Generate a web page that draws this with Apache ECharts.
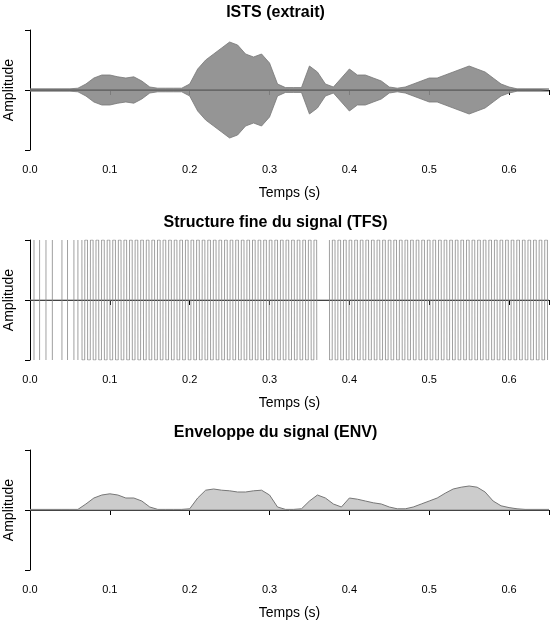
<!DOCTYPE html>
<html>
<head>
<meta charset="UTF-8">
<script src="https://cdn.jsdelivr.net/npm/echarts@6/dist/echarts.min.js"></script>
<style>
  body { margin: 0; background: #fff; }
  #chart { width: 551px; height: 621px; }
</style>
</head>
<body>
<div id="chart"></div>
<script>
// temps (s), pas de 10 ms
var times = [];
for (var i = 0; i <= 65; i++) times.push(+(i * 0.01).toFixed(2));

var istsEnv = [0.02,0.02,0.02,0.02,0.02,0.02,0.03,0.10,0.20,0.25,
               0.25,0.22,0.20,0.22,0.15,0.05,0.03,0.03,0.03,0.03,
               0.10,0.35,0.50,0.60,0.70,0.80,0.75,0.60,0.55,0.60,
               0.45,0.10,0.04,0.04,0.04,0.40,0.30,0.10,0.05,0.20,
               0.35,0.25,0.25,0.20,0.15,0.05,0.03,0.05,0.10,0.15,
               0.20,0.20,0.25,0.30,0.35,0.40,0.35,0.30,0.20,0.10,
               0.05,0.02,0.02,0.02,0.02,0.02];

// enveloppe extraite (ENV)
var envValues = [0.01,0.01,0.01,0.01,0.01,0.01,0.01,0.10,0.20,0.25,
                 0.27,0.25,0.20,0.20,0.15,0.05,0.01,0.01,0.01,0.01,
                 0.02,0.20,0.33,0.35,0.33,0.32,0.30,0.30,0.32,0.33,
                 0.25,0.05,0.01,0.01,0.02,0.15,0.25,0.20,0.10,0.05,
                 0.20,0.18,0.15,0.12,0.10,0.05,0.02,0.02,0.05,0.10,
                 0.15,0.20,0.28,0.35,0.38,0.40,0.38,0.30,0.15,0.07,
                 0.04,0.02,0.01,0.01,0.01,0.01];

// TFS : traits isolés au début, puis zones denses
var tfsSparse = [0.005, 0.012, 0.02, 0.028, 0.04, 0.047, 0.055, 0.06];
var tfsDenseRanges = [[0.065, 0.36], [0.375, 0.65]];
var tfsPeriod = 0.0035;

var xTicks = ['0.0', '0.1', '0.2', '0.3', '0.4', '0.5', '0.6'];

var tfsPoints = [];
tfsSparse.forEach(function (t) {
  tfsPoints.push([t, -1], [t, 1], '-');
});
tfsDenseRanges.forEach(function (r) {
  var s = 1;
  for (var t = r[0]; t <= r[1]; t += tfsPeriod) {
    tfsPoints.push([t, s], [t + tfsPeriod * 0.05, -s]);
    s = -s;
  }
  tfsPoints.push('-');
});

var tops = [30, 240, 450];
var titles = ['ISTS (extrait)', 'Structure fine du signal (TFS)', 'Enveloppe du signal (ENV)'];
var grids = [], xAxes = [], yAxes = [], titleList = [], series = [];

tops.forEach(function (top, k) {
  grids.push({ left: 30, right: 2, top: top, height: 120, containLabel: false, outerBoundsMode: 'none' });
  titleList.push({ text: titles[k], left: 'center', top: top - 30,
    textStyle: { fontSize: 16, fontWeight: 'bold', color: '#000', fontFamily: 'Liberation Sans' } });
  xAxes.push({ gridIndex: k, type: 'value', min: 0, max: 0.65, interval: 0.1,
    name: 'Temps (s)', nameLocation: 'middle', nameGap: 36,
    nameTextStyle: { fontSize: 14, color: '#000', fontFamily: 'Liberation Sans' },
    axisLine: { lineStyle: { color: '#000' } },
    axisTick: { lineStyle: { color: '#000' } },
    axisLabel: { color: '#000', fontSize: 11, margin: 14, fontFamily: 'Liberation Sans',
      formatter: function (v) { var l = xTicks[Math.round(v * 10)]; return l || ''; } },
    splitLine: { show: false } });
  yAxes.push({ gridIndex: k, type: 'value', min: -1, max: 1, interval: 1,
    name: 'Amplitude', nameLocation: 'middle', nameGap: 14, nameRotate: 90,
    nameTextStyle: { fontSize: 14, color: '#000', fontFamily: 'Liberation Sans' },
    axisLine: { show: true, lineStyle: { color: '#000' } },
    axisTick: { show: true, lineStyle: { color: '#000' } },
    axisLabel: { show: false }, splitLine: { show: false } });
});

// ISTS : bande -env..+env
series.push({ type: 'line', xAxisIndex: 0, yAxisIndex: 0, symbol: 'none',
  lineStyle: { color: '#777', width: 0.8 }, areaStyle: { color: '#8a8a8a', opacity: 0.9, origin: 0 },
  data: times.map(function (t, i) { return [t, istsEnv[i]]; }) });
series.push({ type: 'line', xAxisIndex: 0, yAxisIndex: 0, symbol: 'none',
  lineStyle: { color: '#777', width: 0.8 }, areaStyle: { color: '#8a8a8a', opacity: 0.9, origin: 0 },
  data: times.map(function (t, i) { return [t, -istsEnv[i]]; }) });
series.push({ type: 'line', xAxisIndex: 0, yAxisIndex: 0, symbol: 'none',
  lineStyle: { color: '#555', width: 1 }, data: [[0, 0], [0.65, 0]] });

// TFS
series.push({ type: 'line', xAxisIndex: 1, yAxisIndex: 1, symbol: 'none', connectNulls: false,
  lineStyle: { color: '#888', width: 0.8 }, data: tfsPoints });
series.push({ type: 'line', xAxisIndex: 1, yAxisIndex: 1, symbol: 'none',
  lineStyle: { color: '#888', width: 1 }, data: [[0, 0], [0.65, 0]] });

// ENV
series.push({ type: 'line', xAxisIndex: 2, yAxisIndex: 2, symbol: 'none',
  lineStyle: { color: '#777', width: 1 }, areaStyle: { color: '#aaa', opacity: 0.6, origin: 0 },
  data: times.map(function (t, i) { return [t, envValues[i]]; }) });
series.push({ type: 'line', xAxisIndex: 2, yAxisIndex: 2, symbol: 'none',
  lineStyle: { color: '#888', width: 1 }, data: [[0, 0], [0.65, 0]] });

var chart = echarts.init(document.getElementById('chart'));
chart.setOption({
  animation: false,
  backgroundColor: '#fff',
  title: titleList,
  grid: grids,
  xAxis: xAxes,
  yAxis: yAxes,
  series: series
});
</script>
</body>
</html>
